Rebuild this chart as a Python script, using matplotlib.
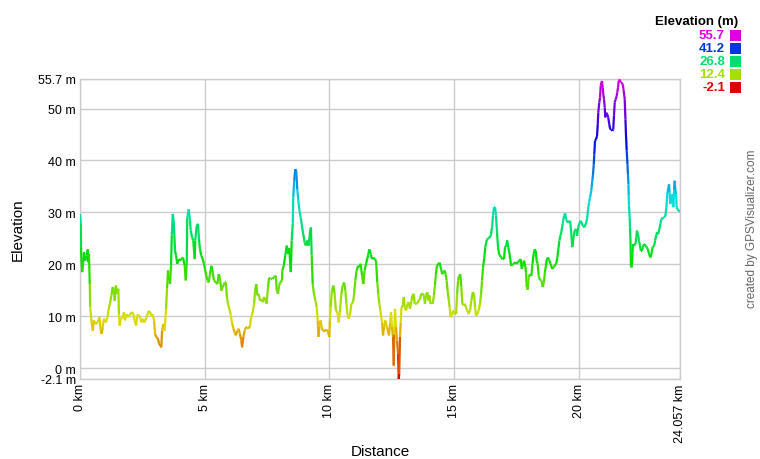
import numpy as np
import matplotlib
matplotlib.use("Agg")
import matplotlib.pyplot as plt
from matplotlib.collections import LineCollection
from matplotlib.colors import hsv_to_rgb
from matplotlib.patches import Rectangle

plt.rcParams['font.family'] = ['Liberation Sans', 'DejaVu Sans']

# track profile (km, m)
dist_km = [
    0.00, 0.03, 0.04, 0.07, 0.09, 0.13, 0.16, 0.21, 0.27, 0.31, 0.33, 0.36, 0.39, 0.41,
    0.45, 0.51, 0.56, 0.61, 0.70, 0.78, 0.83, 0.87, 0.91, 0.96, 1.04, 1.10, 1.15, 1.20,
    1.26, 1.31, 1.36, 1.39, 1.44, 1.50, 1.54, 1.56, 1.59, 1.63, 1.72, 1.76, 1.80, 1.86,
    1.92, 2.00, 2.09, 2.14, 2.19, 2.25, 2.29, 2.35, 2.41, 2.46, 2.53, 2.59, 2.67, 2.75,
    2.81, 2.86, 2.91, 2.97, 3.01, 3.06, 3.13, 3.17, 3.22, 3.26, 3.29, 3.34, 3.39, 3.45,
    3.49, 3.53, 3.57, 3.61, 3.65, 3.68, 3.72, 3.76, 3.78, 3.81, 3.85, 3.90, 3.96, 4.01,
    4.06, 4.13, 4.20, 4.24, 4.28, 4.30, 4.36, 4.41, 4.44, 4.49, 4.54, 4.60, 4.62, 4.68,
    4.73, 4.77, 4.81, 4.86, 4.92, 4.97, 5.05, 5.11, 5.16, 5.21, 5.27, 5.32, 5.37, 5.45,
    5.51, 5.56, 5.61, 5.67, 5.72, 5.80, 5.85, 5.89, 5.93, 5.99, 6.04, 6.09, 6.15, 6.20,
    6.25, 6.31, 6.36, 6.41, 6.47, 6.50, 6.55, 6.60, 6.66, 6.71, 6.76, 6.82, 6.86, 6.91,
    6.98, 7.02, 7.07, 7.11, 7.16, 7.22, 7.27, 7.32, 7.38, 7.43, 7.48, 7.54, 7.58, 7.64,
    7.71, 7.78, 7.85, 7.89, 7.94, 7.98, 8.03, 8.10, 8.11, 8.17, 8.23, 8.29, 8.34, 8.39,
    8.45, 8.49, 8.53, 8.55, 8.59, 8.63, 8.67, 8.71, 8.75, 8.79, 8.85, 8.90, 8.95, 9.01,
    9.06, 9.12, 9.17, 9.22, 9.26, 9.29, 9.33, 9.38, 9.44, 9.49, 9.53, 9.56, 9.60, 9.64,
    9.69, 9.74, 9.81, 9.88, 9.94, 10.00, 10.02, 10.05, 10.10, 10.16, 10.21, 10.26, 10.32,
    10.37, 10.42, 10.48, 10.53, 10.59, 10.64, 10.68, 10.72, 10.77, 10.83, 10.88, 10.95,
    10.99, 11.04, 11.09, 11.15, 11.20, 11.25, 11.31, 11.36, 11.41, 11.47, 11.55, 11.60,
    11.66, 11.71, 11.76, 11.82, 11.87, 11.92, 11.96, 12.00, 12.04, 12.08, 12.11, 12.15,
    12.19, 12.24, 12.30, 12.35, 12.39, 12.43, 12.47, 12.51, 12.55, 12.58, 12.60, 12.63,
    12.67, 12.71, 12.75, 12.78, 12.80, 12.83, 12.86, 12.89, 12.94, 12.98, 13.02, 13.07,
    13.13, 13.18, 13.23, 13.29, 13.33, 13.38, 13.42, 13.47, 13.53, 13.58, 13.63, 13.69,
    13.74, 13.79, 13.83, 13.87, 13.93, 13.97, 14.01, 14.05, 14.09, 14.14, 14.19, 14.23,
    14.27, 14.31, 14.37, 14.42, 14.46, 14.52, 14.57, 14.62, 14.66, 14.70, 14.74, 14.78,
    14.82, 14.86, 14.92, 14.97, 15.02, 15.08, 15.12, 15.16, 15.21, 15.25, 15.29, 15.33,
    15.37, 15.42, 15.48, 15.53, 15.58, 15.64, 15.69, 15.75, 15.80, 15.84, 15.88, 15.93,
    15.98, 16.04, 16.08, 16.12, 16.16, 16.21, 16.25, 16.31, 16.36, 16.41, 16.47, 16.52,
    16.56, 16.60, 16.64, 16.68, 16.72, 16.76, 16.80, 16.84, 16.89, 16.95, 17.00, 17.04,
    17.09, 17.13, 17.17, 17.21, 17.25, 17.29, 17.35, 17.40, 17.45, 17.51, 17.56, 17.62,
    17.67, 17.71, 17.75, 17.80, 17.84, 17.88, 17.91, 17.95, 17.99, 18.04, 18.10, 18.14,
    18.19, 18.23, 18.27, 18.31, 18.35, 18.39, 18.44, 18.50, 18.55, 18.60, 18.64, 18.68,
    18.72, 18.76, 18.82, 18.87, 18.93, 18.98, 19.03, 19.09, 19.14, 19.18, 19.22, 19.26,
    19.30, 19.35, 19.41, 19.45, 19.49, 19.54, 19.59, 19.65, 19.70, 19.74, 19.78, 19.83,
    19.89, 19.93, 19.97, 20.02, 20.07, 20.17, 20.22, 20.28, 20.33, 20.37, 20.41, 20.45,
    20.50, 20.54, 20.57, 20.60, 20.62, 20.65, 20.69, 20.73, 20.76, 20.78, 20.82, 20.85,
    20.88, 20.90, 20.93, 20.96, 20.98, 21.01, 21.04, 21.06, 21.10, 21.14, 21.18, 21.22,
    21.26, 21.30, 21.35, 21.38, 21.41, 21.44, 21.48, 21.52, 21.54, 21.57, 21.60, 21.64,
    21.68, 21.72, 21.76, 21.80, 21.84, 21.87, 21.89, 21.92, 21.95, 21.97, 21.99, 22.00,
    22.01, 22.04, 22.05, 22.07, 22.08, 22.09, 22.12, 22.15, 22.17, 22.21, 22.27, 22.31,
    22.33, 22.37, 22.41, 22.45, 22.49, 22.53, 22.57, 22.61, 22.67, 22.72, 22.76, 22.82,
    22.87, 22.91, 22.96, 23.02, 23.06, 23.10, 23.14, 23.18, 23.23, 23.27, 23.31, 23.36,
    23.42, 23.47, 23.51, 23.55, 23.59, 23.62, 23.64, 23.67, 23.71, 23.75, 23.79, 23.82,
    23.84, 23.87, 23.90, 23.92, 23.96, 24.00, 24.057,
]
elev_m = [
    29.7, 27.8, 23.3, 19.7, 18.5, 20.4, 22.3, 20.7, 21.7, 22.9, 20.4, 22.0, 16.2, 11.7,
    9.5, 7.2, 9.2, 8.5, 8.8, 9.8, 7.2, 6.6, 7.9, 9.5, 8.8, 9.8, 11.4, 12.4,
    14.0, 15.6, 15.0, 13.0, 15.9, 14.3, 15.3, 10.4, 8.2, 9.5, 9.8, 10.8, 9.2, 10.4,
    9.8, 10.3, 10.8, 10.4, 9.2, 8.2, 10.1, 10.3, 9.8, 8.8, 9.5, 8.8, 9.8, 11.0,
    10.8, 10.1, 10.4, 9.2, 6.6, 6.0, 5.6, 4.7, 4.4, 4.0, 7.2, 8.5, 7.2, 11.4,
    15.3, 18.8, 16.9, 16.2, 19.7, 25.5, 29.7, 28.1, 25.8, 22.6, 21.7, 20.1, 21.0, 20.7,
    21.0, 21.3, 19.7, 16.9, 20.4, 29.0, 30.6, 28.4, 26.5, 25.2, 24.6, 21.0, 24.6, 27.4,
    27.8, 24.9, 22.9, 21.7, 21.0, 20.1, 18.1, 16.9, 16.5, 18.1, 19.7, 18.5, 16.9, 16.5,
    16.2, 18.1, 17.4, 14.9, 15.6, 16.5, 16.5, 13.7, 12.4, 11.4, 10.4, 8.8, 7.6, 6.9,
    6.3, 7.2, 7.6, 6.6, 5.3, 4.0, 6.0, 7.2, 7.9, 7.9, 7.6, 8.2, 9.8, 10.4,
    12.4, 14.9, 16.2, 14.0, 14.3, 13.0, 13.3, 12.7, 13.7, 13.0, 12.4, 15.6, 17.4, 17.2,
    17.2, 17.5, 17.8, 14.9, 14.3, 15.9, 16.5, 16.9, 18.8, 19.7, 21.7, 23.6, 22.0, 23.1,
    18.5, 24.6, 27.8, 32.9, 36.1, 38.3, 38.0, 34.5, 32.6, 30.6, 29.0, 27.4, 25.8, 24.2,
    23.6, 24.6, 23.6, 26.2, 27.1, 21.7, 16.2, 14.3, 13.0, 11.7, 9.2, 6.0, 7.9, 9.2,
    7.9, 7.2, 7.2, 7.4, 7.1, 6.0, 9.2, 11.7, 14.9, 15.9, 14.3, 11.1, 10.8,
    8.8, 10.8, 14.3, 15.9, 16.5, 14.9, 12.4, 10.4, 9.5, 10.4, 12.4, 12.7,
    14.3, 16.9, 18.8, 19.7, 19.4, 20.1, 17.8, 16.2, 18.8, 20.1, 21.7, 22.9,
    21.9, 21.0, 21.3, 21.0, 20.7, 16.5, 14.3, 12.4, 11.1, 9.8, 8.8, 6.3,
    7.9, 9.2, 7.9, 7.2, 6.3, 8.5, 10.8, 7.9, 6.0, 0.5, 6.5, 11.4,
    7.9, 5.3, 2.8, -2.1, -1.1, 6.0, 8.8, 11.7, 12.0, 13.7, 11.7, 11.1,
    12.4, 12.7, 11.4, 13.0, 14.0, 14.3, 12.4, 12.4, 12.5, 13.0, 13.3, 14.3,
    14.3, 14.0, 12.4, 14.0, 14.6, 13.0, 14.0, 12.4, 12.7, 12.4, 14.0, 15.9,
    18.1, 19.7, 20.1, 20.3, 19.5, 18.1, 18.5, 18.8, 18.1, 16.9, 14.9, 13.3,
    11.7, 9.8, 10.4, 11.1, 10.4, 10.4, 14.3, 16.9, 17.8, 18.1, 15.6, 12.4,
    12.1, 12.4, 11.7, 11.1, 10.4, 11.1, 13.0, 14.6, 14.3, 11.7, 10.1, 10.4,
    11.1, 12.4, 14.3, 16.9, 19.4, 21.3, 23.3, 24.7, 25.0, 25.1, 25.5, 27.1,
    29.4, 31.0, 31.0, 29.4, 26.2, 23.3, 22.0, 21.7, 21.3, 21.0, 21.0, 23.3,
    23.6, 24.6, 23.3, 22.4, 21.0, 19.7, 20.1, 20.1, 20.4, 20.1, 20.4, 20.7,
    21.0, 19.1, 19.7, 20.7, 20.1, 18.5, 15.6, 15.1, 17.5, 18.1, 17.8, 20.1,
    22.0, 22.9, 22.6, 20.7, 20.1, 17.8, 17.0, 16.9, 15.6, 16.5, 18.5, 19.7,
    21.0, 21.3, 20.7, 20.1, 19.1, 19.4, 19.7, 20.1, 21.3, 22.9, 24.6, 25.5,
    26.2, 27.8, 29.4, 29.8, 28.7, 28.1, 28.1, 28.4, 25.8, 23.3, 24.9, 26.5,
    26.8, 25.5, 27.1, 27.8, 28.4, 27.4, 27.1, 27.8, 28.7, 30.6, 31.9, 32.9,
    34.2, 36.1, 37.4, 39.3, 41.2, 43.8, 44.1, 44.7, 47.0, 49.2, 51.2, 52.1,
    54.4, 55.0, 55.3, 54.0, 52.8, 51.8, 50.2, 48.3, 49.2, 48.9, 48.3, 47.0,
    46.0, 46.0, 45.7, 46.0, 48.6, 51.2, 51.8, 52.4, 53.1, 54.0, 55.3, 55.6,
    55.0, 55.0, 54.7, 53.4, 51.8, 47.9, 45.1, 41.9, 39.3, 37.4, 35.4, 33.2,
    31.3, 29.0, 27.1, 24.9, 22.0, 19.7, 19.4, 22.0, 23.9, 23.6, 23.9, 25.2,
    26.5, 25.8, 24.6, 23.6, 22.6, 22.6, 23.3, 23.9, 23.6, 23.3, 23.0, 22.0,
    21.3, 22.0, 23.3, 23.6, 24.6, 25.5, 26.2, 25.8, 26.8, 27.8, 28.7, 29.0,
    29.0, 29.3, 31.0, 33.5, 34.8, 35.4, 33.8, 31.6, 32.3, 33.5, 31.0, 34.2,
    36.1, 34.5, 33.5, 31.0, 30.6, 30.3, 30.2,
]

elev_min, elev_max = -2.1, 55.7
total_km = 24.057
y_ticks = [0, 10, 20, 30, 40, 50]
x_ticks = [0, 5, 10, 15, 20]
legend_vals = [55.7, 41.2, 26.8, 12.4, -2.1]


def elev_color(v):
    # GPS Visualizer style: hue runs red -> magenta over the elevation range
    frac = (np.asarray(v) - elev_min) / (elev_max - elev_min)
    frac = np.clip(frac, 0, 1)
    hsv = np.stack([frac * 300 / 360, np.ones_like(frac), np.full_like(frac, 0.87)], axis=-1)
    return hsv_to_rgb(hsv)


W, H = 760, 460
fig = plt.figure(figsize=(W / 100, H / 100), dpi=100)
ax = fig.add_axes([80 / W, 1 - 380 / H, 600 / W, 300 / H])

x = np.array(dist_km)
y = np.array(elev_m)
pts = np.column_stack([x, y]).reshape(-1, 1, 2)
segs = np.concatenate([pts[:-1], pts[1:]], axis=1)
mid = (y[:-1] + y[1:]) / 2
lc = LineCollection(segs, colors=elev_color(mid), linewidths=1.6, capstyle='butt', zorder=3)
ax.add_collection(lc)

ax.set_xlim(0, total_km)
ax.set_ylim(elev_min, elev_max)

ax.set_yticks(y_ticks + [elev_min, elev_max])
ax.set_yticklabels([f'{t} m' for t in y_ticks] + [f'{elev_min} m', f'{elev_max} m'])
ax.set_xticks(x_ticks + [total_km])
ax.set_xticklabels([f'{t} km' for t in x_ticks] + [f'{total_km} km'], rotation=90)
ax.tick_params(length=0, labelsize=9, colors='black', pad=3)
ax.grid(True, color='#cccccc', linewidth=1)
for s in ax.spines.values():
    s.set_color('#cccccc')
    s.set_linewidth(1)

ax.set_xlabel('Distance', fontsize=11, va='center')
ax.xaxis.set_label_coords(0.5, -(452 - 380) / 300)
ax.set_ylabel('Elevation', fontsize=11, va='center')
ax.yaxis.set_label_coords((18 - 80) / 600, 0.5)

# colour legend, top right
fig.text(738 / W, 1 - 22 / H, 'Elevation (m)', ha='right', va='center',
         fontsize=9.5, fontweight='bold')
for i, v in enumerate(legend_vals):
    yc = 1 - (36 + i * 13) / H
    c = elev_color(v)
    fig.text(725 / W, yc, f'{v}', ha='right', va='center', fontsize=9.5,
             fontweight='bold', color=c)
    fig.add_artist(Rectangle((730 / W, yc - 5.5 / H), 11 / W, 11 / H,
                             transform=fig.transFigure, color=c, lw=0))

fig.text(752 / W, 1 - 229 / H, 'created by GPSVisualizer.com', rotation=90,
         ha='center', va='center', fontsize=8.5, color='#666666')

fig.savefig('out.png', dpi=100)
